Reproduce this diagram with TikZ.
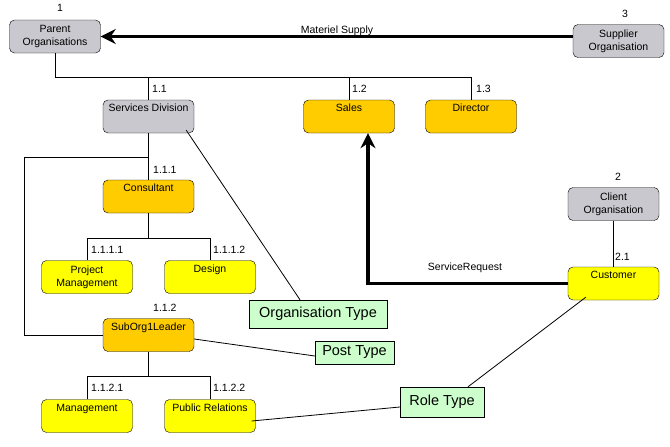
\documentclass[tikz,border=0pt]{standalone}
\usepackage{fontspec}
\setmainfont{Liberation Sans}
\usetikzlibrary{arrows.meta,calc}
\definecolor{orggray}{RGB}{200,200,206}
\definecolor{postorange}{RGB}{255,204,0}
\definecolor{roleyellow}{RGB}{255,255,0}
\definecolor{typegreen}{RGB}{204,255,204}

\begin{document}
\begin{tikzpicture}[x=1pt, y=-1pt,
    box/.style={rectangle, draw=black, rounded corners=5pt,
      minimum width=91pt, minimum height=33pt, inner sep=1pt, align=center,
      font=\fontsize{10.5}{13}\selectfont},
    org/.style={box, fill=orggray},
    post/.style={box, fill=postorange},
    role/.style={box, fill=roleyellow},
    typebox/.style={rectangle, draw=black, fill=typegreen, inner sep=0pt,
      font=\fontsize{14.5}{17}\selectfont},
    num/.style={font=\fontsize{10.5}{13}\selectfont, inner sep=0pt},
    link/.style={draw=black, line width=0.8pt},
    flow/.style={-{Stealth[length=15pt,width=15pt,inset=5pt]}, line width=3.5pt},
  ]
    \useasboundingbox (0,0) rectangle (670,447);

    \node[org]  (parent)     at (55,36.5)    {Parent\\Organisations};
    \node[org]  (supplier)   at (618.5,41)   {Supplier\\Organisation};
    \node[org]  (client)     at (613.5,204)  {Client\\Organisation};
    \node[org]  (services)   at (148.5,116.5) {Services Division\\\strut};
    \node[post] (sales)      at (349,116.5)  {Sales\\\strut};
    \node[post] (director)   at (471,116.5)  {Director\\\strut};
    \node[post] (consultant) at (148.5,196.5) {Consultant\\\strut};
    \node[role] (projmgmt)   at (87,277)     {Project\\Management};
    \node[role] (design)     at (210,277)    {Design\\\strut};
    \node[post] (suborg)     at (148.5,335)  {SubOrg1Leader\\\strut};
    \node[role] (mgmt)       at (87,416)     {Management\\\strut};
    \node[role] (pubrel)     at (210,416)    {Public Relations\\\strut};
    \node[role] (customer)   at (613.5,283.5) {Customer\\\strut};

    \node[typebox, minimum width=138pt, minimum height=28pt] (orgtype)  at (318,314)   {Organisation Type};
    \node[typebox, minimum width=79pt,  minimum height=23pt] (posttype) at (354.5,352.5) {Post Type};
    \node[typebox, minimum width=84pt,  minimum height=30pt] (roletype) at (442,402)   {Role Type};

    % hierarchy
    \coordinate (bus)  at (55,77);
    \coordinate (loop) at (24,157);
    \coordinate (cbus) at (0,238);
    \coordinate (sbus) at (0,376);
    \draw[link] (parent.south) |- (director.north |- bus) -- (director.north);
    \draw[link] (services.north |- bus) -- (services.north);
    \draw[link] (sales.north |- bus) -- (sales.north);
    \draw[link] (services) -- (consultant);
    \draw[link] (services.south |- loop) -- (loop) |- (suborg.west);
    \draw[link] (consultant.south) -- (consultant.south |- cbus);
    \draw[link] (projmgmt.north) |- (design.north |- cbus) -- (design.north);
    \draw[link] (suborg.south) -- (suborg.south |- sbus);
    \draw[link] (mgmt.north) |- (pubrel.north |- sbus) -- (pubrel.north);
    \draw[link] (client) -- (customer);

    % type links
    \draw[link] ($(services.south east)+(-8,-3)$) -- ($(orgtype.north)+(-18,0)$);
    \draw[link] ($(suborg.east)+(0,4)$) -- ($(posttype.west)+(0,3.5)$);
    \draw[link] ($(pubrel.east)+(-4,5)$) -- ($(roletype.west)+(0,5)$);
    \draw[link] ($(roletype.north)+(26,0)$) -- ($(customer.south west)+(18,-3)$);

    % flows
    \draw[flow] (supplier.west |- parent.east) -- (parent.east);
    \draw[flow] (customer.west) -| ($(sales.south)+(19,0)$);
    \node[num] (supplylbl)  at (337,31)  {Materiel Supply};
    \node[num] (requestlbl) at (465,268) {ServiceRequest};

    % numbering
    \node[num] (n1) at (60,8)    {1};
    \node[num] (n3) at (625,14)  {3};
    \node[num] (n2) at (618,177) {2};
    \node[num, anchor=west] (n11)   at (152,89)  {1.1};
    \node[num, anchor=west] (n12)   at (352,89)  {1.2};
    \node[num, anchor=west] (n13)   at (476,89)  {1.3};
    \node[num, anchor=west] (n111)  at (153,170) {1.1.1};
    \node[num, anchor=west] (n1111) at (91,250)  {1.1.1.1};
    \node[num, anchor=west] (n1112) at (213,250) {1.1.1.2};
    \node[num, anchor=west] (n112)  at (153,308) {1.1.2};
    \node[num, anchor=west] (n1121) at (91,388)  {1.1.2.1};
    \node[num, anchor=west] (n1122) at (213,388) {1.1.2.2};
    \node[num, anchor=west] (n21)   at (615,257) {2.1};
  \end{tikzpicture}
\end{document}
